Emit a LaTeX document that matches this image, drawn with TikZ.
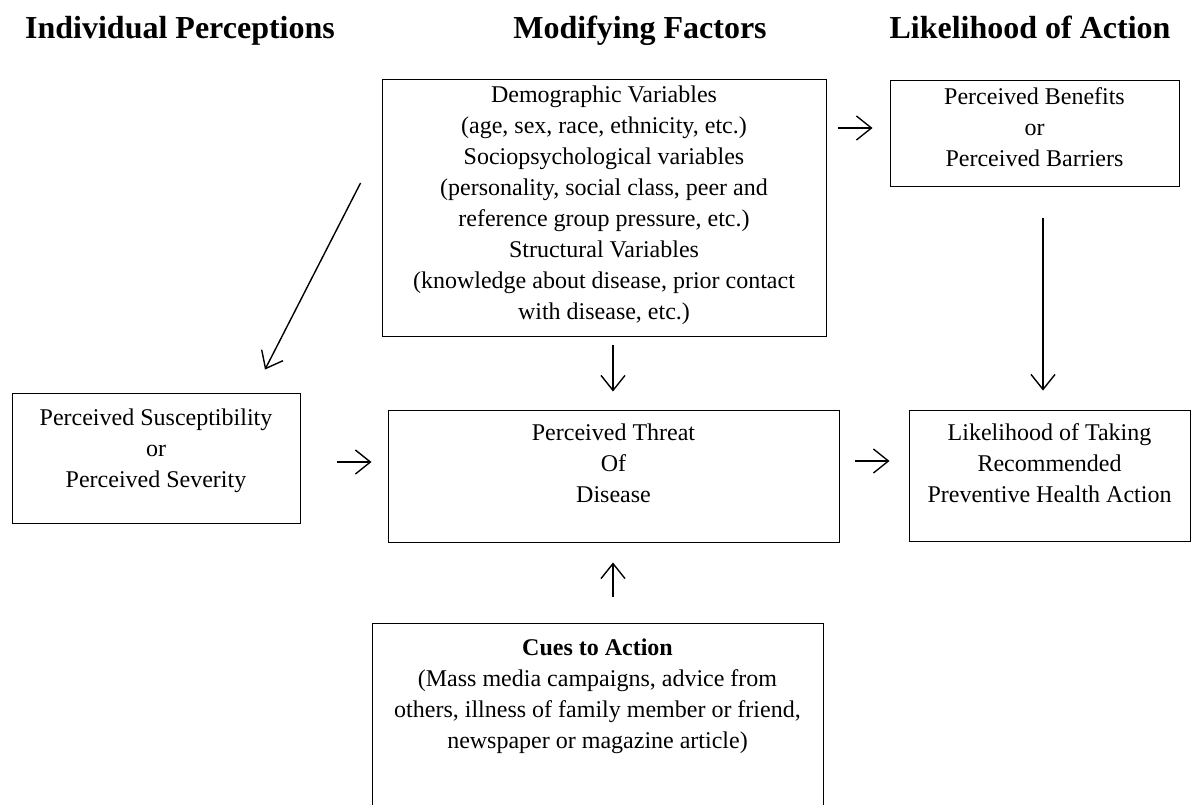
\documentclass[tikz,border=0pt]{standalone}
\usepackage{fontspec}
\setmainfont{Liberation Serif}
\usetikzlibrary{arrows.meta,calc}
\tikzset{
  box/.style={draw, line width=0.9pt, rectangle, inner sep=0pt},
  txt/.style={anchor=north, align=center, inner sep=0pt, font=\fontsize{24}{31}\selectfont},
  head/.style={anchor=base, inner sep=0pt, font=\fontsize{32}{38}\selectfont\bfseries},
  arr/.style={line width=1.4pt, -{Straight Barb[length=15pt,width=24pt,line width=1.4pt]}},
}
\begin{document}
\begin{tikzpicture}[x=1pt,y=-1pt]
\useasboundingbox (0,0) rectangle (1200,805);
% headings
\node[head] (h1) at (180,39) {Individual Perceptions};
\node[head] (h2) at (640,39) {Modifying Factors};
\node[head] (h3) at (1030,39) {Likelihood of Action};
% boxes
\node[box, minimum width=444pt, minimum height=257pt] (demo) at (604,207.5) {};
\node[box, minimum width=289pt, minimum height=106pt] (ben) at (1034.5,133) {};
\node[box, minimum width=288pt, minimum height=130pt] (susc) at (156,458) {};
\node[box, minimum width=451pt, minimum height=132pt] (threat) at (613.5,476) {};
\node[box, minimum width=281pt, minimum height=131pt] (like) at (1049.5,475.5) {};
\node[box, minimum width=451pt, minimum height=207pt] (cues) at (597.5,726.5) {};
% texts
\node[txt] (demoT) at ([yshift=-7pt]demo.north) {Demographic Variables\\(age, sex, race, ethnicity, etc.)\\Sociopsychological variables\\(personality, social class, peer and\\reference group pressure, etc.)\\Structural Variables\\(knowledge about disease, prior contact\\with disease, etc.)};
\node[txt] (benT) at ([yshift=-8pt]ben.north) {Perceived Benefits\\or\\Perceived Barriers};
\node[txt] (suscT) at ([yshift=-16pt]susc.north) {Perceived Susceptibility\\or\\Perceived Severity};
\node[txt] (threatT) at ([yshift=-14pt]threat.north) {Perceived Threat\\Of\\Disease};
\node[txt] (likeT) at ([yshift=-14pt]like.north) {Likelihood of Taking\\Recommended\\Preventive Health Action};
\node[txt] (cuesT) at ([yshift=-16pt]cues.north) {\textbf{Cues to Action}\\(Mass media campaigns, advice from\\others, illness of family member or friend,\\newspaper or magazine article)};
% arrows
\draw[arr] ([shift={(-21,-24.5)}]demo.west) -- ([shift={(109,-23)}]susc.north);
\draw[arr] ([shift={(12,-79.5)}]demo.east) -- ([shift={(-17,-5)}]ben.west);
\draw[arr] ([shift={(8.5,32)}]ben.south) -- ([shift={(-6.5,-19)}]like.north);
\draw[arr] ([shift={(9,9)}]demo.south) -- ([shift={(-0.5,-18)}]threat.north);
\draw[arr] ([shift={(37,4)}]susc.east) -- ([shift={(-16,-14)}]threat.west);
\draw[arr] ([shift={(16,-15)}]threat.east) -- ([shift={(-19,-14.5)}]like.west);
\draw[arr] ([shift={(15.5,-26)}]cues.north) -- ([shift={(-0.5,20)}]threat.south);
\end{tikzpicture}
\end{document}
